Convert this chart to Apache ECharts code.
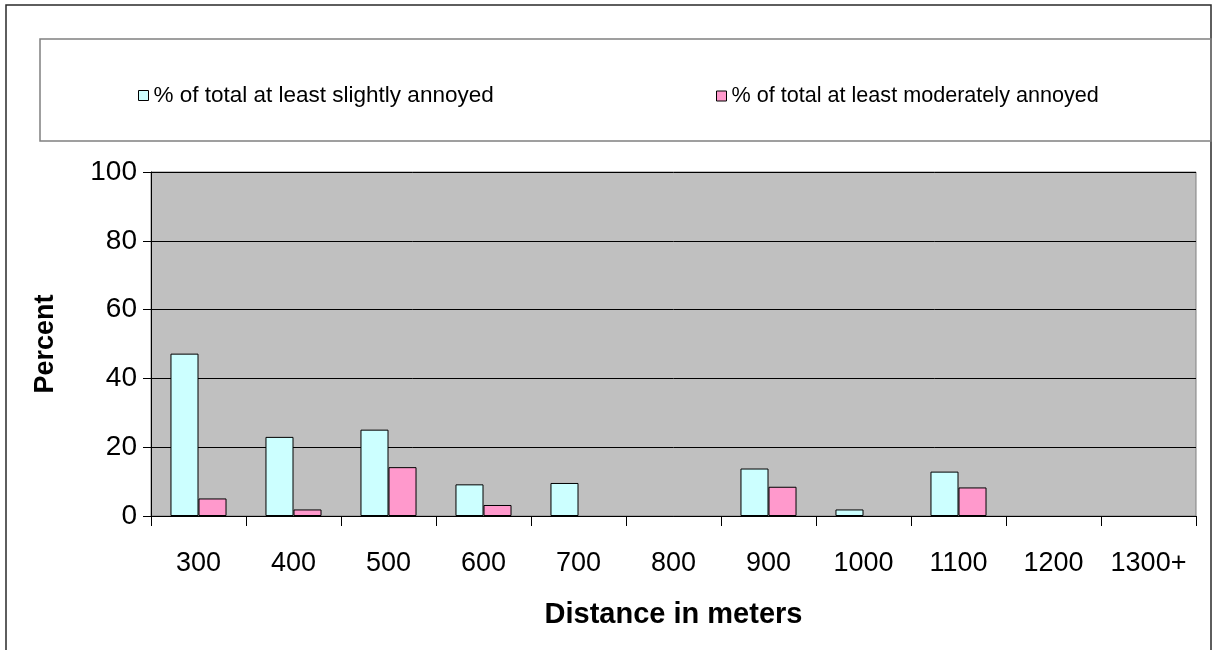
<!DOCTYPE html>
<html>
<head>
<meta charset="utf-8">
<script src="https://cdn.jsdelivr.net/npm/echarts@6/dist/echarts.min.js"></script>
<style>
  html, body { margin: 0; padding: 0; background: #fff; }
  #chart { width: 1215px; height: 650px; }
</style>
</head>
<body>
<div id="chart"></div>
<script>
// Distance bands (m) and share of respondents annoyed in each band
const categories = ['300', '400', '500', '600', '700', '800', '900', '1000', '1100', '1200', '1300+'];
const slightlyAnnoyed = [47.2, 23.0, 25.1, 9.2, 9.6, null, 13.8, 1.9, 12.9, null, null];
const moderatelyAnnoyed = [5.1, 1.9, 14.2, 3.2, null, null, 8.5, null, 8.3, null, null];
const seriesNames = ['% of total at least slightly annoyed', '% of total at least moderately annoyed'];
const yTicks = { min: 0, max: 100, interval: 20 };

const FONT = 'Arial, "Liberation Sans", sans-serif';

const chart = echarts.init(document.getElementById('chart'), null, { renderer: 'canvas' });

chart.setOption({
  animation: false,
  backgroundColor: '#ffffff',
  graphic: [
    // outer chart frame
    {
      type: 'rect', z: -1,
      shape: { x: 6, y: 5, width: 1205, height: 700 },
      style: { fill: 'none', stroke: '#2a2a2a', lineWidth: 1.5 }
    },
    // legend frame
    {
      type: 'rect', z: -1,
      shape: { x: 40, y: 39, width: 1171, height: 102 },
      style: { fill: 'none', stroke: '#808080', lineWidth: 1.5 }
    }
  ],
  legend: [
    {
      data: [seriesNames[0]],
      left: 133, top: 79,
      itemWidth: 10, itemHeight: 10, itemGap: 6,
      icon: 'rect',
      itemStyle: { borderColor: '#000', borderWidth: 1 },
      textStyle: { fontFamily: FONT, fontSize: 22.5, color: '#000' }
    },
    {
      data: [seriesNames[1]],
      left: 711, top: 80,
      itemWidth: 10, itemHeight: 10, itemGap: 6,
      icon: 'rect',
      itemStyle: { borderColor: '#000', borderWidth: 1 },
      textStyle: { fontFamily: FONT, fontSize: 21.6, color: '#000' }
    }
  ],
  grid: {
    left: 151, right: 19, top: 172, bottom: 134,
    show: true,
    backgroundColor: '#C0C0C0',
    borderColor: '#808080',
    borderWidth: 1
  },
  xAxis: {
    type: 'category',
    data: categories,
    name: 'Distance in meters',
    nameLocation: 'middle',
    nameGap: 84,
    nameTextStyle: { fontFamily: FONT, fontSize: 29, fontWeight: 'bold', color: '#000' },
    axisLine: { lineStyle: { color: '#000', width: 1 } },
    axisTick: { show: true, interval: 0, length: 10, alignWithLabel: false, lineStyle: { color: '#000' } },
    axisLabel: { interval: 0, hideOverlap: false, fontFamily: FONT, fontSize: 27, color: '#000', margin: 34 },
    splitLine: { show: false }
  },
  yAxis: {
    type: 'value',
    min: yTicks.min, max: yTicks.max, interval: yTicks.interval,
    name: 'Percent',
    nameLocation: 'middle',
    nameGap: 92,
    nameRotate: 90,
    nameTextStyle: { fontFamily: FONT, fontSize: 27, fontWeight: 'bold', color: '#000' },
    axisLine: { show: true, lineStyle: { color: '#000', width: 1 } },
    axisTick: { show: true, length: 8, lineStyle: { color: '#000' } },
    axisLabel: { fontFamily: FONT, fontSize: 28, color: '#000', margin: 14 },
    splitLine: { show: true, lineStyle: { color: '#000', width: 1 } }
  },
  series: [
    {
      name: seriesNames[0],
      type: 'bar',
      data: slightlyAnnoyed,
      barGap: '0%',
      barCategoryGap: '41%',
      itemStyle: { color: '#CCFFFF', borderColor: '#000', borderWidth: 1 }
    },
    {
      name: seriesNames[1],
      type: 'bar',
      data: moderatelyAnnoyed,
      barGap: '0%',
      barCategoryGap: '41%',
      itemStyle: { color: '#FF99CC', borderColor: '#000', borderWidth: 1 }
    }
  ]
});
</script>
</body>
</html>
